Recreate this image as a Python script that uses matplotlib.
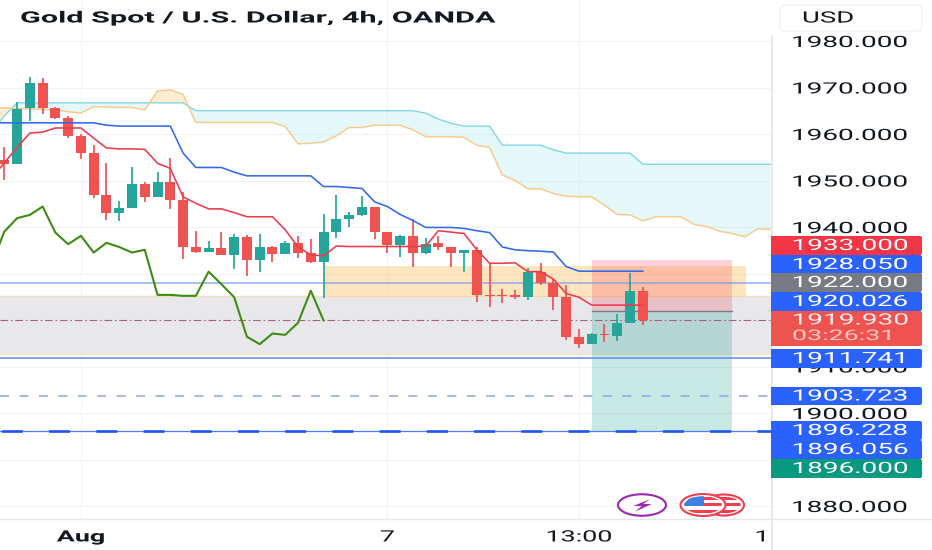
import numpy as np
import matplotlib
matplotlib.use("Agg")
import matplotlib.pyplot as plt
from matplotlib.patches import Rectangle, FancyBboxPatch, Ellipse, Polygon
from matplotlib.patheffects import AbstractPathEffect
from matplotlib.transforms import Affine2D

plt.rcParams['font.family'] = ['Roboto', 'DejaVu Sans']
plt.rcParams['lines.scale_dashes'] = False

# ---------- data ----------
title = "Gold Spot / U.S. Dollar, 4h, OANDA"
opens = [1954.4,1953.5,1965.5,1970.9,1965.5,1963.4,1959.6,1955.9,1946.9,1943.1,1944.1,1949.2,1946.4,1949.7,1945.7,1935.6,1934.6,1935.5,1934.0,1937.8,
         1932.9,1935.6,1934.2,1936.6,1934.5,1932.4,1938.9,1941.7,1942.6,1944.3,1938.9,1936.1,1938.0,1934.5,1936.5,1935.6,1934.5,1935.1,1925.4,1925.4,
         1925.3,1924.9,1930.4,1928.0,1924.9,1916.3,1914.8,1917.0,1916.6,1919.4,1926.2]
highs = [1957.1,1966.9,1972.3,1972.0,1965.9,1963.9,1960.0,1957.6,1953.8,1945.5,1952.8,1949.7,1951.8,1954.8,1947.6,1939.1,1937.0,1938.9,1938.4,1938.3,
         1938.6,1935.9,1937.0,1938.1,1937.4,1942.8,1946.9,1943.3,1946.7,1944.3,1938.9,1938.3,1941.7,1937.6,1938.1,1935.6,1935.1,1935.6,1932.3,1926.6,
         1926.5,1931.1,1932.3,1929.0,1927.5,1918.0,1917.3,1919.1,1921.3,1930.2,1927.2]
lows = [1950.1,1953.5,1962.9,1964.3,1963.2,1959.1,1954.6,1946.2,1941.5,1941.2,1944.1,1945.4,1946.4,1943.9,1933.1,1934.5,1934.6,1934.0,1931.0,1929.5,
        1930.4,1932.5,1934.2,1933.3,1932.2,1924.8,1937.6,1939.9,1942.4,1937.4,1934.5,1933.5,1931.5,1934.2,1935.1,1931.3,1930.3,1923.8,1922.9,1923.6,
        1924.5,1924.3,1927.5,1922.2,1915.7,1914.0,1914.8,1915.3,1915.5,1919.4,1918.9]
closes = [1953.5,1965.3,1970.9,1965.5,1963.4,1959.6,1955.9,1946.9,1943.1,1944.1,1949.2,1946.4,1949.7,1945.7,1935.6,1934.6,1935.5,1934.0,1937.8,1932.9,
          1935.6,1934.2,1936.6,1934.5,1932.4,1938.9,1941.7,1942.6,1944.3,1938.9,1936.1,1938.0,1934.5,1936.3,1935.6,1934.5,1935.1,1925.4,1925.2,1925.2,
          1924.9,1930.4,1928.0,1924.9,1916.3,1914.8,1917.0,1916.7,1919.4,1926.2,1919.93]
tenkan = [1950.5,1953.8,1957.1,1960.2,1960.4,1961.3,1961.3,1961.3,1959.1,1957.0,1956.8,1956.8,1956.7,1953.7,1952.6,1946.5,1945.1,1943.9,1943.9,1943.1,
          1942.2,1942.2,1942.2,1939.4,1935.7,1934.0,1933.8,1935.9,1935.8,1935.8,1935.8,1935.8,1935.8,1935.8,1935.9,1939.2,1938.9,1938.6,1935.1,1932.2,
          1932.2,1932.3,1930.4,1930.4,1928.8,1925.7,1924.9,1923.2,1923.2,1923.2,1923.2,1923.2]
kijun = [1962.4,1962.4,1962.4,1962.4,1962.4,1962.4,1962.4,1962.4,1962.4,1961.9,1961.7,1961.7,1961.7,1961.7,1961.7,1955.9,1952.8,1952.8,1952.8,1951.8,
         1951.0,1951.0,1951.0,1951.0,1951.0,1951.0,1948.7,1948.7,1948.5,1948.3,1945.4,1944.4,1942.7,1941.4,1939.9,1939.9,1939.9,1939.7,1939.2,1938.8,
         1935.7,1935.1,1934.9,1934.8,1934.6,1931.5,1930.5,1930.5,1930.5,1930.5,1930.5,1930.5]
chikou = [1932.0,1939.0,1941.9,1942.6,1944.4,1938.8,1936.3,1938.1,1934.5,1936.6,1935.7,1934.5,1935.1,1925.4,1925.4,1925.2,1925.2,1930.4,1927.7,1924.9,
          1916.4,1914.8,1917.1,1916.8,1919.4,1926.3,1919.9]
span_a = [1960.5,1963.9,1966.7,1966.7,1966.7,1966.7,1966.7,1966.7,1966.7,1966.7,1966.7,1966.7,1966.7,1966.7,1966.7,1966.7,
          1965.0,1965.0,1965.0,1965.0,1965.0,1965.0,1965.0,1965.0,1965.0,1965.0,1965.0,1965.0,1965.0,1965.0,1965.0,1965.0,1965.0,1965.0,
          1964.5,1963.2,1962.3,1961.7,1961.7,1961.7,1957.6,1957.6,1957.6,1957.6,1956.6,1955.9,1955.9,1955.9,1955.9,1955.9,1955.9,
          1953.5,1953.5,1953.5,1953.5,1953.5,1953.5,1953.5,1953.5,1953.5,1953.5,1953.5]
span_b = [1965.6,1965.6,1965.5,1965.4,1965.3,1965.2,1964.8,1964.5,1965.9,1965.8,1965.7,1965.7,1965.2,1969.3,1969.5,1968.5,
          1962.5,1962.5,1962.5,1962.5,1962.5,1962.5,1962.5,1961.6,1957.9,1958.0,1958.3,1959.6,1961.4,1961.4,1961.9,1961.9,1961.9,1960.9,
          1959.4,1959.4,1959.4,1959.3,1957.6,1957.1,1951.2,1950.0,1948.2,1948.2,1947.2,1946.6,1946.5,1946.5,1944.7,1942.7,1942.6,
          1941.3,1942.2,1942.2,1942.2,1940.6,1940.1,1939.1,1938.6,1937.9,1939.6,1939.5]
y_ticks = [1980,1970,1960,1950,1940,1930,1920,1910,1900,1890,1880]
y_tick_labels = ["1980.000","1970.000","1960.000","1950.000","1940.000","","","1910.000","1900.000","","1880.000"]
x_ticks = [6,30,45,59.33]
x_tick_labels = ["Aug","7","13:00","1"]
gray_zone = (1912.7,1925.2)
orange_zone = (1925.0,1931.6,25,58.08)
position = (46,57,1933.0,1922.0,1896.0)
level_top = 1928.05
level_mid = 1911.741
level_dash = 1903.723
level_thin = 1896.228
level_thick = 1896.056
last_price = 1919.93
price_labels = ["1933.000","1928.050","1922.000","1920.026","1919.930","1911.741","1903.723","1896.228","1896.056","1896.000"]
label_colors = ['#f23645','#2962ff','#787b86','#2962ff','#ef5350','#2962ff','#2962ff','#2962ff','#2962ff','#089981']
label_tops = [236,255,273,292,311,349,387,421,440,459]
label_bottoms = [255,274,292,311,346,368,405,440,459,478]
countdown = "03:26:31"

GREEN, RED = '#26a69a', '#ef5350'
GRID = '#f0f3fa'


class Stretch(AbstractPathEffect):
    """Widen real text about a display x, like the horizontally stretched screenshot."""
    def __init__(self, x0, sx):
        super().__init__()
        self.x0, self.sx = x0, sx

    def draw_path(self, renderer, gc, tpath, affine, rgbFace=None):
        a = affine + Affine2D().translate(-self.x0, 0).scale(self.sx, 1).translate(self.x0, 0)
        renderer.draw_path(gc, tpath, a, rgbFace)


fig = plt.figure(figsize=(9.32, 5.5), dpi=100, facecolor='white')
W, H = 932, 550
ax = fig.add_axes([0, (H - 519) / H, 771 / W, 519 / H])
ax.set_xlim(-4.3 / 12.77, (771 - 4.3) / 12.77)
ax.set_ylim(1980 - (519 - 41) / 4.65, 1980 + 41 / 4.65)
for s in ax.spines.values():
    s.set_visible(False)
ax.set_axisbelow(True)
ax.grid(True, color=GRID, lw=0.8)
ax.yaxis.tick_right()
ax.set_yticks(y_ticks)
ax.set_yticklabels(y_tick_labels, fontsize=11.2, color='#131722')
ax.set_xticks(x_ticks)
ax.set_xticklabels(x_tick_labels, fontsize=11.2, color='#131722')
ax.tick_params(axis='y', length=0, pad=14.4)
ax.tick_params(axis='x', length=0, pad=7.5)
ax.get_xticklabels()[0].set_fontweight('bold')
ax.get_xgridlines()[3].set_visible(False)

# zones
ax.axhspan(*gray_zone, color='#e8e8ec', lw=0, zorder=1)
for v in gray_zone:
    ax.axhline(v, color='#f6dfc0', lw=1.0, zorder=1.2)
ax.add_patch(Rectangle((orange_zone[2], orange_zone[0]), orange_zone[3] - orange_zone[2],
                       orange_zone[1] - orange_zone[0], fc='#ffcc80', alpha=0.5, lw=0, zorder=1.5))
ax.add_patch(Rectangle((position[0], position[3]), position[1] - position[0], position[2] - position[3],
                       fc='#f23645', alpha=0.22, lw=0, zorder=2))
ax.add_patch(Rectangle((position[0], position[4]), position[1] - position[0], position[3] - position[4],
                       fc='#089981', alpha=0.22, lw=0, zorder=2))
ax.plot([position[0], position[1]], [position[3], position[3]], color='#787b86', lw=1.0, zorder=2.2)

# cloud
cx = np.arange(len(span_a)) - 1
a, b = np.array(span_a), np.array(span_b)
ax.fill_between(cx, a, b, where=a >= b, interpolate=True, color='#b2ebf2', alpha=0.35, lw=0, zorder=1.3)
ax.fill_between(cx, a, b, where=a <= b, interpolate=True, color='#ffcc80', alpha=0.35, lw=0, zorder=1.3)
ax.plot(cx, a, color='#7fd8e4', lw=1.0, zorder=2.5)
ax.plot(cx, b, color='#f8cb8c', lw=1.1, zorder=2.5)

# levels
ax.axhline(level_top, color='#7f9df0', lw=1.1, alpha=0.85, zorder=2.6)
ax.axhline(level_mid, color='#6c8ff0', lw=1.2, zorder=2.6)
ax.axhline(level_dash, color='#8ea5ec', lw=1.1, ls=(0, (6.5, 7.5)), zorder=2.6)
ax.axhline(level_thin, color='#4f7df5', lw=0.9, zorder=2.6)
ax.axhline(level_thick, color='#1f55ee', lw=1.9, ls=(33, (15.1, 18.9)), zorder=2.7)
ax.axhline(last_price, color='#a8607c', lw=0.8, ls=(0, (5.5, 2, 1.2, 2)), zorder=2.7)

# candles
ix = np.arange(len(opens))
o, h, l, c = map(np.array, (opens, highs, lows, closes))
colors = [GREEN if ci >= oi else RED for oi, ci in zip(o, c)]
ax.vlines(ix, l, h, colors=colors, lw=1.25, zorder=3)
ax.bar(ix, np.maximum(np.abs(c - o), 0.25), bottom=np.minimum(o, c), width=0.78, color=colors, lw=0, zorder=3.1)

# indicator lines
ax.plot(np.arange(len(kijun)) - 1, kijun, color='#2f6be8', lw=1.15, zorder=3.4)
ax.plot(np.arange(len(tenkan)) - 1, tenkan, color='#ee3b4b', lw=1.15, zorder=3.5)
ax.plot(np.arange(len(chikou)) - 1, chikou, color='#3f8c13', lw=1.5, zorder=3.5)

# overlay in pixel space
ov = fig.add_axes([0, 0, 1, 1], zorder=5)
ov.set_xlim(0, W)
ov.set_ylim(H, 0)
ov.axis('off')
ov.patch.set_visible(False)
ov.plot([771.5, 771.5], [36, 550], color='#dfe2ea', lw=1.1)
ov.plot([0, 932], [519, 519], color='#e6e8ee', lw=1.0)

fig.canvas.draw()
renderer = fig.canvas.get_renderer()


def stretched(x, y, s, width, size, color, weight='normal'):
    t = ov.text(x, y, s, ha='center', va='center', fontsize=size, color=color, fontweight=weight, zorder=12)
    nat = t.get_window_extent(renderer).width
    t.set_path_effects([Stretch(x, width / nat)])
    return t


# y tick labels stretched from their left edge
for lbl in ax.get_yticklabels():
    if lbl.get_text():
        bb = lbl.get_window_extent(renderer)
        lbl.set_path_effects([Stretch(bb.x0, 117 / bb.width)])
# x tick labels stretched about their centres
ref = ax.get_xticklabels()[2].get_window_extent(renderer)
sx_ticks = 67 / ref.width
for lbl in ax.get_xticklabels():
    bb = lbl.get_window_extent(renderer)
    lbl.set_path_effects([Stretch((bb.x0 + bb.x1) / 2, sx_ticks)])

stretched(257, 18, title, 474, 11.2, '#131722', 'bold')

# currency box
ov.add_patch(FancyBboxPatch((780, 5), 142, 26, boxstyle='round,pad=0,rounding_size=5',
                            fc='white', ec='#f0f3fa', lw=1))
stretched(828, 18, "USD", 52, 11.2, '#131722')

# price labels
for s, col, top, bot in zip(price_labels, label_colors, label_tops, label_bottoms):
    ov.add_patch(FancyBboxPatch((771, top), 151, bot - top, boxstyle='round,pad=0,rounding_size=2',
                                fc=col, ec='none', zorder=10))
    ov.add_patch(Rectangle((771, top), 8, bot - top, fc=col, ec='none', zorder=10))
    ty = (top + bot) / 2 if s != "1919.930" else top + 9
    stretched(850, ty, s, 117, 11.2, 'white' if s != "1919.930" else '#ffecea')
stretched(844, 336, countdown, 104, 10.5, '#ffc9c4')

# lightning badge
ov.add_patch(Ellipse((642, 505), 48, 21.5, fc='white', ec='#9c27b0', lw=1.5, zorder=8))
ov.add_patch(Polygon([(650, 499.3), (633.3, 506), (641.7, 506), (635, 511.7), (651.7, 504), (643.3, 504)],
                     fc='#9c27b0', ec='none', zorder=9))


# flag badges
def flag(cx0, rx, ry, z, canton=True):
    ell = Ellipse((cx0, 505), rx * 2, ry * 2, fc='white', ec='#ef3f50', lw=1.5, zorder=z)
    ov.add_patch(ell)
    inner = Ellipse((cx0, 505), rx * 1.66, ry * 1.6, fc='white', ec='none', zorder=z)
    ov.add_patch(inner)
    for k in range(3):
        r = Rectangle((cx0 - rx, 497 + k * 6.3), rx * 2, 2.9, fc='#ef3f50', ec='none', zorder=z + 0.1)
        ov.add_patch(r)
        r.set_clip_path(inner)
    if canton:
        r = Rectangle((cx0 - rx, 496), rx * 1.05, 9.5, fc='#3d80e0', ec='none', zorder=z + 0.2)
        ov.add_patch(r)
        r.set_clip_path(inner)


flag(724, 20, 10.5, 8, canton=False)
flag(703, 22.5, 11, 9)

fig.savefig('out.png', dpi=100, facecolor='white')
